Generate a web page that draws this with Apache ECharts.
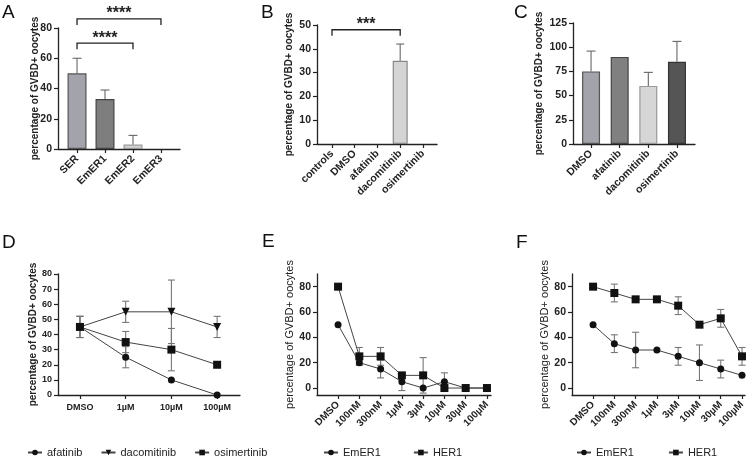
<!DOCTYPE html>
<html>
<head>
<meta charset="utf-8">
<script src="https://cdn.jsdelivr.net/npm/echarts@6/dist/echarts.min.js"></script>
<style>
  html, body { margin: 0; padding: 0; background: #fff; }
  #chart { width: 756px; height: 459px; }
</style>
</head>
<body>
<div id="chart"></div>
<script>
// ---- data ----
const catA = ['SER', 'EmER1', 'EmER2', 'EmER3'];
const meanA = [50, 33, 3, 0];
const errA = [10, 6, 6, 0];

const catB = ['controls', 'DMSO', 'afatinib', 'dacomitinib', 'osimertinib'];
const meanB = [0, 0, 0, 35, 0];
const errB = [0, 0, 0, 7, 0];

const catC = ['DMSO', 'afatinib', 'dacomitinib', 'osimertinib'];
const meanC = [75, 90, 60, 85];
const errC = [21, 0, 14, 21];

const catD = ['DMSO', '1µM', '10µM', '100µM'];
const afatinibD = [45, 25, 10, 0];
const afatinibErrD = [7, 7, 0, 0];
const dacomitinibD = [45, 55, 55, 45];
const dacomitinibErrD = [7, 7, 21, 7];
const osimertinibD = [45, 35, 30, 20];
const osimertinibErrD = [7, 7, 14, 0];

const catEF = ['DMSO', '100nM', '300nM', '1µM', '3µM', '10µM', '30µM', '100µM'];
const emer1E = [50, 20, 15, 5, 0, 5, 0, 0];
const emer1ErrE = [0, 2, 7, 7, 0, 7, 0, 0];
const her1E = [80, 25, 25, 10, 10, 0, 0, 0];
const her1ErrE = [0, 7, 7, 0, 14, 0, 0, 0];
const emer1F = [50, 35, 30, 30, 25, 20, 15, 10];
const emer1ErrF = [0, 7, 14, 0, 7, 14, 7, 0];
const her1F = [80, 75, 70, 70, 65, 50, 55, 25];
const her1ErrF = [0, 7, 0, 0, 7, 0, 7, 7];

const ticksEF = [0, 20, 40, 60, 80];

// significance brackets: [from index, to index, height]
const bracketsA = [[0, 3, 86], [0, 2, 70]];
const bracketLabelsA = ['****', '****'];
const bracketsB = [[0, 3, 48]];
const bracketLabelsB = ['***'];

// bar colours
const fillA = ['#a3a3ab', '#7e7e7e', '#d6d6d6', '#d6d6d6'];
const edgeA = ['#555', '#444', '#999', '#999'];
const fillB = ['#d4d4d4', '#d4d4d4', '#d4d4d4', '#d4d4d4', '#d4d4d4'];
const edgeB = ['#888', '#888', '#888', '#888', '#888'];
const fillC = ['#a3a3ab', '#808080', '#d6d6d6', '#555555'];
const edgeC = ['#555', '#444', '#999', '#333'];

const FONT = 'Liberation Sans';
const chart = echarts.init(document.getElementById('chart'));

function xAxis(grid, cats, min, max, rotate, size, margin) {
  const idx = cats.map((c, i) => i);
  return {
    type: 'value', gridIndex: grid, min: min, max: max,
    splitLine: { show: false },
    axisLine: { onZero: false, lineStyle: { color: '#222', width: 1.3 } },
    axisTick: { customValues: idx, length: 4, lineStyle: { color: '#222', width: 1.2 } },
    axisLabel: {
      customValues: idx, rotate: rotate, margin: margin,
      formatter: v => cats[Math.round(v)],
      color: '#222', fontFamily: FONT, fontWeight: 'bold', fontSize: size
    }
  };
}

function yAxis(grid, min, max, interval, custom, size, gap, bold) {
  const ax = {
    type: 'value', gridIndex: grid, min: min, max: max,
    name: 'percentage of GVBD+ oocytes', nameLocation: 'middle', nameGap: gap,
    nameMoveOverlap: false,
    nameTextStyle: { fontFamily: FONT, fontWeight: bold ? 'bold' : 'normal', fontSize: bold ? 10 : 11, color: '#222' },
    splitLine: { show: false },
    axisLine: { show: true, onZero: false, lineStyle: { color: '#222', width: 1.3 } },
    axisTick: { show: true, length: 4, lineStyle: { color: '#222', width: 1.2 } },
    axisLabel: { margin: 6, color: '#222', fontFamily: FONT, fontWeight: 'bold', fontSize: size }
  };
  if (interval) ax.interval = interval;
  if (custom) {
    ax.axisTick.customValues = custom;
    ax.axisLabel.customValues = custom;
  }
  return ax;
}

function barSeries(grid, means, fills, edges, width) {
  return {
    type: 'bar', xAxisIndex: grid, yAxisIndex: grid, barWidth: width,
    data: means.map((v, i) => ({
      value: [i, v === 0 ? '-' : v],
      itemStyle: { color: fills[i], borderColor: edges[i], borderWidth: 1.2 }
    }))
  };
}

function errSeries(grid, means, errs, both, color, cap) {
  const data = [];
  means.forEach((v, i) => {
    if (errs[i] > 0) data.push([i, both ? v - errs[i] : v, v + errs[i]]);
  });
  return {
    type: 'custom', xAxisIndex: grid, yAxisIndex: grid, z: 3,
    encode: { x: 0, y: [1, 2] },
    data: data,
    renderItem: function (params, api) {
      const a = api.coord([api.value(0), api.value(1)]);
      const b = api.coord([api.value(0), api.value(2)]);
      const st = { stroke: color, lineWidth: 1.1 };
      const kids = [
        { type: 'line', shape: { x1: a[0], y1: a[1], x2: b[0], y2: b[1] }, style: st },
        { type: 'line', shape: { x1: b[0] - cap, y1: b[1], x2: b[0] + cap, y2: b[1] }, style: st }
      ];
      if (both) kids.push({ type: 'line', shape: { x1: a[0] - cap, y1: a[1], x2: a[0] + cap, y2: a[1] }, style: st });
      return { type: 'group', children: kids };
    }
  };
}

function bracketSeries(grid, brackets, labels) {
  return {
    type: 'custom', xAxisIndex: grid, yAxisIndex: grid, z: 4,
    encode: { x: [0, 1], y: 2 },
    data: brackets,
    renderItem: function (params, api) {
      const p0 = api.coord([api.value(0), api.value(2)]);
      const p1 = api.coord([api.value(1), api.value(2)]);
      const drop = 6;
      return {
        type: 'group', children: [
          { type: 'polyline', shape: { points: [[p0[0], p0[1] + drop], p0, p1, [p1[0], p1[1] + drop]] },
            style: { stroke: '#222', lineWidth: 1.3, fill: null } },
          { type: 'text', style: { text: labels[params.dataIndex], x: (p0[0] + p1[0]) / 2, y: p0[1] + 3,
            align: 'center', verticalAlign: 'bottom', font: 'bold 16px ' + FONT, fill: '#222' } }
        ]
      };
    }
  };
}

function lineSeries(grid, name, values, symbol, size, rotate) {
  return {
    type: 'line', name: name, xAxisIndex: grid, yAxisIndex: grid, z: 4,
    symbol: symbol, symbolSize: size, symbolRotate: rotate || 0,
    itemStyle: { color: '#111' },
    lineStyle: { color: '#444', width: 1 },
    data: values.map((v, i) => [i, v])
  };
}

const legendText = { fontFamily: FONT, fontSize: 11, color: '#222' };

const letters = [['A', 2, 3], ['B', 261, 3], ['C', 514, 3], ['D', 2, 233], ['E', 262, 232], ['F', 516, 233]];

chart.setOption({
  animation: false,
  backgroundColor: '#fff',
  title: letters.map(l => ({
    text: l[0], left: l[1], top: l[2], padding: 0,
    textStyle: { fontFamily: FONT, fontSize: 19, fontWeight: 'normal', color: '#111' }
  })),
  legend: [
    { left: 27, top: 447, padding: 0, itemWidth: 14, itemHeight: 7, itemGap: 18, textStyle: legendText,
      data: ['afatinib', 'dacomitinib', 'osimertinib'] },
    { left: 323, top: 447, padding: 0, itemWidth: 14, itemHeight: 7, itemGap: 32, textStyle: legendText,
      data: ['EmER1', 'HER1'] },
    { left: 576, top: 447, padding: 0, itemWidth: 14, itemHeight: 7, itemGap: 34, textStyle: legendText,
      data: ['EmER1', 'HER1'] }
  ],
  grid: [
    { left: 58, top: 28, width: 122, height: 121 },
    { left: 317, top: 25, width: 120, height: 119 },
    { left: 573, top: 23, width: 122, height: 121 },
    { left: 58, top: 274, width: 182, height: 121 },
    { left: 317, top: 274, width: 174, height: 121 },
    { left: 572, top: 274, width: 173, height: 121 }
  ],
  xAxis: [
    xAxis(0, catA, -0.68, 3.68, 45, 10.5, 8),
    xAxis(1, catB, -0.66, 4.62, 45, 10.5, 8),
    xAxis(2, catC, -0.63, 3.63, 45, 10.5, 8),
    xAxis(3, catD, -0.48, 3.5, 0, 9, 8),
    xAxis(4, catEF, -0.99, 7.19, 45, 10, 8),
    xAxis(5, catEF, -0.99, 7.14, 45, 10, 8)
  ],
  yAxis: [
    yAxis(0, 0, 80, 20, null, 10.5, 18, true),
    yAxis(1, 0, 50, 10, null, 10.5, 23, true),
    yAxis(2, 0, 125, 25, null, 10.5, 29, true),
    yAxis(3, 0, 80, 10, null, 9, 20, true),
    yAxis(4, -5.5, 90, null, ticksEF, 10.5, 22, false),
    yAxis(5, -5.5, 90, null, ticksEF, 10.5, 22, false)
  ],
  series: [
    barSeries(0, meanA, fillA, edgeA, 19),
    errSeries(0, meanA, errA, false, '#666', 4.5),
    bracketSeries(0, bracketsA, bracketLabelsA),

    barSeries(1, meanB, fillB, edgeB, 15),
    errSeries(1, meanB, errB, false, '#666', 4),
    bracketSeries(1, bracketsB, bracketLabelsB),

    barSeries(2, meanC, fillC, edgeC, 18),
    errSeries(2, meanC, errC, false, '#666', 4.5),

    errSeries(3, afatinibD, afatinibErrD, true, '#777', 3.5),
    errSeries(3, dacomitinibD, dacomitinibErrD, true, '#777', 3.5),
    errSeries(3, osimertinibD, osimertinibErrD, true, '#777', 3.5),
    lineSeries(3, 'afatinib', afatinibD, 'circle', 7),
    lineSeries(3, 'dacomitinib', dacomitinibD, 'triangle', 8, 180),
    lineSeries(3, 'osimertinib', osimertinibD, 'rect', 8),

    errSeries(4, emer1E, emer1ErrE, true, '#777', 3.5),
    errSeries(4, her1E, her1ErrE, true, '#777', 3.5),
    lineSeries(4, 'EmER1', emer1E, 'circle', 7),
    lineSeries(4, 'HER1', her1E, 'rect', 8),

    errSeries(5, emer1F, emer1ErrF, true, '#777', 3.5),
    errSeries(5, her1F, her1ErrF, true, '#777', 3.5),
    lineSeries(5, 'EmER1', emer1F, 'circle', 7),
    lineSeries(5, 'HER1', her1F, 'rect', 8)
  ]
});
</script>
</body>
</html>
